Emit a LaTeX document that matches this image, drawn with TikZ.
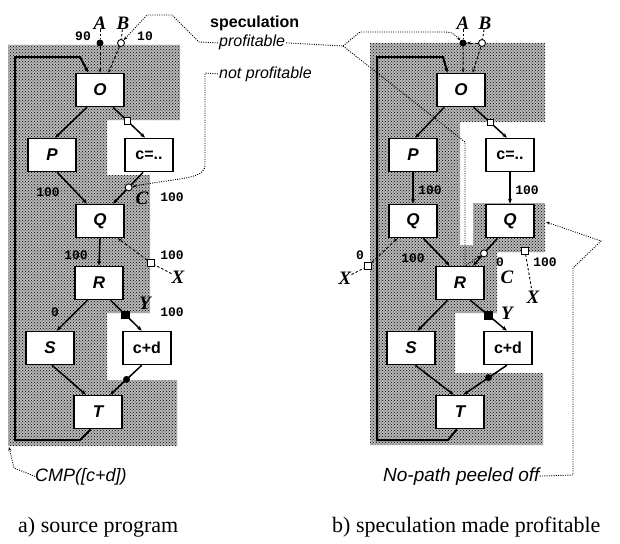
\documentclass[tikz,border=0pt]{standalone}
\usepackage{fontspec}
\setmainfont{Liberation Serif}
\setsansfont{Liberation Sans}
\setmonofont{Liberation Mono}
\usetikzlibrary{arrows.meta,patterns}

\tikzset{
  blk/.style={draw, line width=1.6pt, fill=white, minimum width=48pt,
    minimum height=33pt, inner sep=0pt,
    font=\sffamily\bfseries\itshape\fontsize{17}{17}\selectfont},
  stmt/.style={blk, font=\sffamily\bfseries\fontsize{16}{16}\selectfont},
  flow/.style={line width=1.5pt, -{Stealth[length=5pt,width=4pt]}},
  loopback/.style={line width=2pt, -{Stealth[length=5pt,width=4pt]}},
  spec/.style={line width=0.9pt, dash pattern=on 3pt off 2pt,
    -{Stealth[length=4pt,width=3pt]}},
  tick/.style={line width=0.9pt, dash pattern=on 2.5pt off 2pt},
  lead/.style={line width=0.9pt, dash pattern=on 1pt off 1.3pt},
  prob/.style={font=\ttfamily\bfseries\fontsize{13}{13}\selectfont, inner sep=0pt},
  tag/.style={font=\bfseries\itshape\fontsize{19}{19}\selectfont, inner sep=0pt},
  note/.style={font=\sffamily\itshape\fontsize{16}{16}\selectfont, inner sep=1pt},
  osq/.style={draw, fill=white, line width=0.9pt, minimum size=6.5pt, inner sep=0pt},
  ocirc/.style={draw, fill=white, circle, line width=0.9pt, minimum size=7pt, inner sep=0pt},
  fsq/.style={draw, fill=black, minimum size=7pt, inner sep=0pt},
  fdot/.style={fill=black, circle, minimum size=7pt, inner sep=0pt},
  region/.style={pattern=crosshatch dots, pattern color=black},
}

\begin{document}
\begin{tikzpicture}[x=1pt, y=-1pt]

\useasboundingbox (0,0) rectangle (620,543);

% shaded regions
\fill[black!28] (8,45) -- (180,45) -- (180,120) -- (107,120) -- (107,175) -- (150,175)
  -- (150,313) -- (107,313) -- (107,380) -- (177,380) -- (177,446) -- (8,446) -- cycle;
\fill[region] (8,45) -- (180,45) -- (180,120) -- (107,120) -- (107,175) -- (150,175)
  -- (150,313) -- (107,313) -- (107,380) -- (177,380) -- (177,446) -- (8,446) -- cycle;

\fill[black!28] (370,43) -- (545,43) -- (545,122) -- (460,122) -- (460,245) -- (473,245)
  -- (473,203) -- (545,203) -- (545,252) -- (497,252) -- (497,313) -- (455,313)
  -- (455,373) -- (543,373) -- (543,445) -- (370,445) -- cycle;
\fill[region] (370,43) -- (545,43) -- (545,122) -- (460,122) -- (460,245) -- (473,245)
  -- (473,203) -- (545,203) -- (545,252) -- (497,252) -- (497,313) -- (455,313)
  -- (455,373) -- (543,373) -- (543,445) -- (370,445) -- cycle;

%
% a) source program
%

\path (100,90) node[blk] (oA) {O};
\path (52,155) node[blk] (pA) {P};
\path (149,155) node[stmt] (cA) {c=..};
\path (100,221) node[blk] (qA) {Q};
\path (99,283) node[blk] (rA) {R};
\path (50,348) node[blk] (sA) {S};
\path (147,348) node[stmt] (cdA) {c+d};
\path (98,412) node[blk] (tA) {T};

\draw[flow] (oA.-127) -- (pA.80);
\draw[flow] (oA.-53) -- node[osq, pos=0.45] (sqA) {} (cA.103);
\draw[flow] (pA.-73) -- (qA.127);
\draw[flow] (cA.-109) -- node[ocirc, pos=0.48] (ccA) {} (qA.53);
\draw[flow] (qA.south) -- (rA.north);
\draw[flow] (rA.-124) -- (sA.69);
\draw[flow] (rA.-56) -- node[fsq, pos=0.48] (ysqA) {} (cdA.107);
\draw[flow] (sA.-83) -- (tA.125);
\draw[flow] (cdA.-107) -- node[fdot, pos=0.48] (ydA) {} (tA.55);

% back edge
\draw[loopback] (tA.-113) -- (80,440) -- (15,440) -- (15,57) -- (80,57) -- (oA.124);

% speculation points
\path (100,43) node[fdot] (aTopA) {};
\path (121,43) node[ocirc] (bTopA) {};
\path (100,23) node[tag] (labAA) {A};
\path (123,23) node[tag] (labBA) {B};
\draw[tick] (labAA) -- (aTopA);
\draw[tick] (labBA) -- (bTopA);
\draw[spec] (aTopA) -- (oA.north);
\draw[spec] (bTopA) -- (oA.64);

\path (151,263) node[osq] (xsqA) {};
\path (178,277) node[tag] (labXA) {X};
\draw[tick] (labXA) -- (xsqA);
\draw[spec] (xsqA) -- (qA.-44);

\path (142,198) node[tag] (labCA) {C};
\path (145,303) node[tag] (labYA) {Y};

\path (83,36) node[prob] (nA1) {90};
\path (145,36) node[prob] (nA2) {10};
\path (48,192) node[prob] (nA3) {100};
\path (172,197) node[prob] (nA4) {100};
\path (76,255) node[prob] (nA5) {100};
\path (172,255) node[prob] (nA6) {100};
\path (55,312) node[prob] (nA7) {0};
\path (172,312) node[prob] (nA8) {100};

%
% legend
%

\path (210,28) node[anchor=base west, inner sep=0pt,
  font=\sffamily\bfseries\fontsize{16}{16}\selectfont] (spec) {speculation};
\path (218,47) node[note, anchor=base west] (prof) {profitable};
\path (218,78) node[note, anchor=base west] (notprof) {not profitable};

\draw[lead, -{Stealth[length=4pt,width=3pt]}] (prof.west) -- (199,42) -- (172,15)
  -- (147,15) -- (bTopA);
\draw[lead, -{Stealth[length=4pt,width=3pt]}] (notprof.west) -- (205,73) -- (205,165)
  .. controls (205,180) and (175,178) .. (ccA);

\path (35,481) node[anchor=base west, inner sep=0pt,
  font=\sffamily\itshape\fontsize{18}{18}\selectfont] (cmp) {CMP([c+d])};
\coordinate (loopA) at (9,447);
\draw[lead, -{Stealth[length=4pt,width=3pt]}] (cmp.west) -- (14,468) -- (loopA);

\path (18,532) node[anchor=base west, inner sep=0pt, font=\fontsize{22}{22}\selectfont]
  (capA) {a) source program};

%
% b) speculation made profitable
%

\path (461,90) node[blk] (oB) {O};
\path (413,155) node[blk] (pB) {P};
\path (510,155) node[stmt] (cB) {c=..};
\path (413,221) node[blk] (qbL) {Q};
\path (510,221) node[blk] (qbR) {Q};
\path (460,283) node[blk] (rB) {R};
\path (411,348) node[blk] (sB) {S};
\path (508,348) node[stmt] (cdB) {c+d};
\path (460,412) node[blk] (tB) {T};

\draw[flow] (oB.-134) -- (pB.83);
\draw[flow] (oB.-54) -- node[osq, pos=0.5] (sqB) {} (cB.100);
\draw[flow] (pB.south) -- (qbL.north);
\draw[flow] (cB.south) -- (qbR.north);
\draw[flow] (qbL.-59) -- (rB.121);
\draw[flow] (qbR.-126) -- node[ocirc, pos=0.55] (ccB) {} (rB.53);
\draw[flow] (rB.-126) -- (sB.69);
\draw[flow] (rB.-59) -- node[fsq, pos=0.5] (ysqB) {} (cdB.94);
\draw[flow] (sB.-76) -- (tB.110);
\draw[flow] (cdB.-94) -- node[fdot, pos=0.42] (ydB) {} (tB.79);

% back edge
\draw[loopback] (tB.-100) -- (448,440) -- (377,440) -- (377,57) -- (443,57) -- (oB.128);

% speculation points
\path (463,43) node[fdot] (aTopB) {};
\path (482,43) node[ocirc] (bTopB) {};
\path (463,23) node[tag] (labAB) {A};
\path (485,23) node[tag] (labBB) {B};
\draw[tick] (labAB) -- (aTopB);
\draw[tick] (labBB) -- (bTopB);
\draw[spec] (bTopB) -- (aTopB);
\draw[spec] (aTopB) -- (oB.83);
\draw[spec] (bTopB) -- (oB.56);

\path (368,266) node[osq] (xsqB1) {};
\path (345,278) node[tag] (labXB1) {X};
\draw[tick] (labXB1) -- (xsqB1);
\draw[spec] (xsqB1) -- (qbL.-132);

\path (525,251) node[osq] (xsqB2) {};
\path (533,297) node[tag] (labXB2) {X};
\draw[tick] (xsqB2) -- (labXB2);

\path (507,277) node[tag] (labCB) {C};
\path (507,313) node[tag] (labYB) {Y};

\path (430,190) node[prob] (nB1) {100};
\path (527,190) node[prob] (nB2) {100};
\path (360,255) node[prob] (nB3) {0};
\path (413,258) node[prob] (nB4) {100};
\path (500,262) node[prob] (nB5) {0};
\path (545,262) node[prob] (nB6) {100};

% profitable leaders
\coordinate (fork) at (343,46);
\draw[lead] (prof.east) -- (fork);
\draw[lead, -{Stealth[length=4pt,width=3pt]}] (fork) -- (360,32) -- (440,32)
  .. controls (452,32) .. (aTopB);
\draw[lead, -{Stealth[length=4pt,width=3pt]}] (fork) -- (465,142) -- (465,266) -- (ccB);

% peeled off
\path (383,481) node[anchor=base west, inner sep=0pt,
  font=\sffamily\itshape\fontsize{19}{19}\selectfont] (nopath) {No-path peeled off};
\coordinate (peelB) at (546,222);
\draw[lead, -{Stealth[length=4pt,width=3pt]}] (nopath.east) -- (573,475) -- (573,268)
  -- (601,241) -- (peelB);

\path (332,532) node[anchor=base west, inner sep=0pt, font=\fontsize{22}{22}\selectfont]
  (capB) {b) speculation made profitable};

\end{tikzpicture}
\end{document}
